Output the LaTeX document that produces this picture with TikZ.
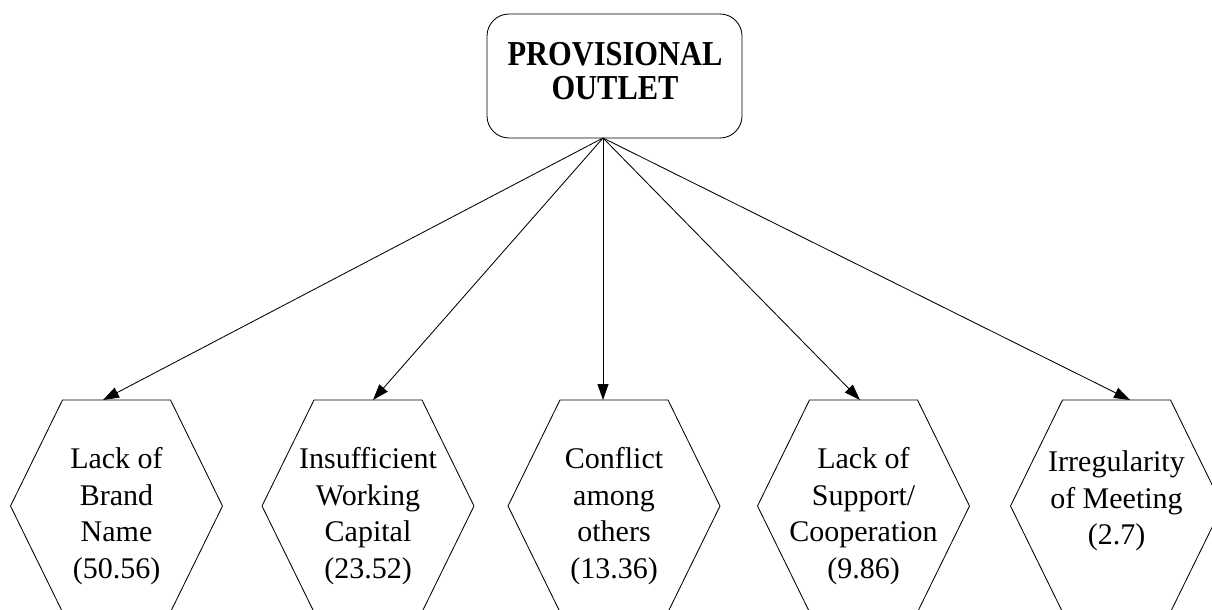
\documentclass[tikz,border=0pt]{standalone}
\usepackage{fontspec}
\setmainfont{Liberation Serif}
\newfontfamily\headfont[FakeStretch=0.87]{Liberation Serif}
\usetikzlibrary{arrows.meta,calc}
\begin{document}
\begin{tikzpicture}[x=1pt,y=-1pt,
  hexline/.style={draw=black, line width=0.85pt},
  lbl/.style={align=center, font=\fontsize{30}{36.5}\selectfont, inner sep=0pt},
  conn/.style={-{Triangle[length=16pt,width=11pt]}, line width=0.85pt}]
\useasboundingbox (0,0) rectangle (1212,610);
\clip (0,0) rectangle (1212,610);
% top box
\node[draw, rounded corners=22pt, minimum width=255pt, minimum height=124pt,
      line width=0.85pt, inner sep=0pt] (top) at (614.5,76) {};
\node[font=\headfont\bfseries\fontsize{35}{34}\selectfont, align=center, inner sep=0pt]
      (toptext) at (615,71.5) {PROVISIONAL\\OUTLET};
\coordinate (apex) at (603,138);
% hexagon centres
\foreach \n/\x in {1/116.5,2/368,3/614,4/863.5,5/1116.5}{
  \coordinate (c\n) at (\x,506);
  \draw[hexline] ($(c\n)+(-54,-106)$) -- ($(c\n)+(54,-106)$) -- ($(c\n)+(106,0)$)
     -- ($(c\n)+(54,106)$) -- ($(c\n)+(-54,106)$) -- ($(c\n)+(-106,0)$) -- cycle;
}
\node[lbl] (h1) at (116.5,516) {Lack of\\Brand\\Name\\(50.56)};
\node[lbl] (h2) at (368,516) {Insufficient\\Working\\Capital\\(23.52)};
\node[lbl] (h3) at (614,516) {Conflict\\among\\others\\(13.36)};
\node[lbl] (h4) at (863.5,516) {Lack of\\Support/\\Cooperation\\(9.86)};
\node[lbl] (h5) at (1116.5,501) {Irregularity\\of Meeting\\(2.7)};
% arrow targets on top edges
\coordinate (t1) at (103,400);
\coordinate (t2) at (373,400);
\coordinate (t3) at (603,400);
\coordinate (t4) at (860,400);
\coordinate (t5) at (1130,400);
\foreach \n in {1,...,5}{ \draw[conn] (apex) -- (t\n); }
\end{tikzpicture}
\end{document}
